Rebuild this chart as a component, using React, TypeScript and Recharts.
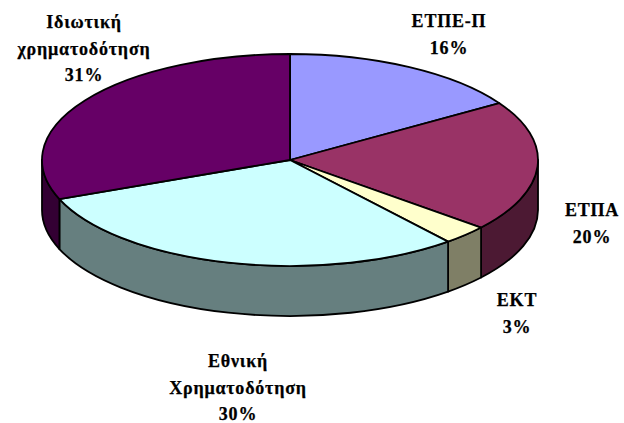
import React from "react";
import { PieChart, Pie, Cell } from "recharts";

const categories = ["ΕΤΠΕ-Π", "ΕΤΠΑ", "ΕΚΤ", "Εθνική\nΧρηματοδότηση", "Ιδιωτική\nχρηματοδότηση"];
const values = [16, 20, 3, 30, 31];
const topColors = ["#9999FF", "#993366", "#FFFFCC", "#CCFFFF", "#660066"];
const sideColors = ["#4C4C7F", "#4C1933", "#7F7F66", "#667F7F", "#330033"];
const labelAnchors = [
  { x: 449, y: 27 },
  { x: 592, y: 216 },
  { x: 517, y: 306 },
  { x: 238, y: 367 },
  { x: 84, y: 28 },
];

const CX = 290, CY = 160, RX = 248, RY = 106, DEPTH = 50;
const RAD = Math.PI / 180;
const px = (a: number) => CX + RX * Math.cos(a * RAD);
const py = (a: number) => CY - RY * Math.sin(a * RAD);

function wallPath(a: number, b: number) {
  const segs: [number, number][] = [];
  for (const [lo, hi] of [[-180, 0], [-540, -360]] as [number, number][]) {
    const s = Math.min(a, hi), e = Math.max(b, lo);
    if (s > e) segs.push([s, e]);
  }
  return segs
    .map(([s, e]) => {
      const large = s - e > 180 ? 1 : 0;
      return `M${px(s)},${py(s)} A${RX},${RY} 0 ${large} 1 ${px(e)},${py(e)} L${px(e)},${py(e) + DEPTH} A${RX},${RY} 0 ${large} 0 ${px(s)},${py(s) + DEPTH} Z`;
    })
    .join(" ");
}

function topPath(a: number, b: number) {
  const large = a - b > 180 ? 1 : 0;
  return `M${CX},${CY} L${px(a)},${py(a)} A${RX},${RY} 0 ${large} 1 ${px(b)},${py(b)} Z`;
}

const SliceShape = (props: any) => {
  const { startAngle, endAngle, index } = props;
  return (
    <g>
      <path d={wallPath(startAngle, endAngle)} fill={sideColors[index]} stroke="#000" strokeWidth={1.8} strokeLinejoin="round" />
      <path d={topPath(startAngle, endAngle)} fill={topColors[index]} stroke="#000" strokeWidth={1.8} strokeLinejoin="round" />
    </g>
  );
};

const SliceLabel = (props: any) => {
  const { index } = props;
  const lines = [...categories[index].split("\n"), `${values[index]}%`];
  const a = labelAnchors[index];
  return (
    <text
      x={a.x}
      y={a.y}
      textAnchor="middle"
      fontFamily="'Liberation Serif', serif"
      fontWeight="bold"
      fontSize={18}
      letterSpacing={0.8}
      fill="#000"
      stroke="#000"
      strokeWidth={0.25}
    >
      {lines.map((l, i) => (
        <tspan key={i} x={a.x} dy={i === 0 ? 0 : 26.5}>
          {l}
        </tspan>
      ))}
    </text>
  );
};

const data = categories.map((name, i) => ({ name, value: values[i] }));

export default function App() {
  return (
    <div style={{ position: "absolute", left: 0, top: 0, width: 624, height: 423, background: "#fff" }}>
      <PieChart width={624} height={423} margin={{ top: 0, right: 0, bottom: 0, left: 0 }}>
        <Pie
          data={data}
          dataKey="value"
          nameKey="name"
          cx={CX}
          cy={CY}
          outerRadius={RX}
          startAngle={90}
          endAngle={-270}
          paddingAngle={0}
          stroke="none"
          shape={SliceShape}
          label={SliceLabel}
          labelLine={false}
          isAnimationActive={false}
        >
          {data.map((d, i) => (
            <Cell key={d.name} fill={topColors[i]} />
          ))}
        </Pie>
      </PieChart>
    </div>
  );
}
